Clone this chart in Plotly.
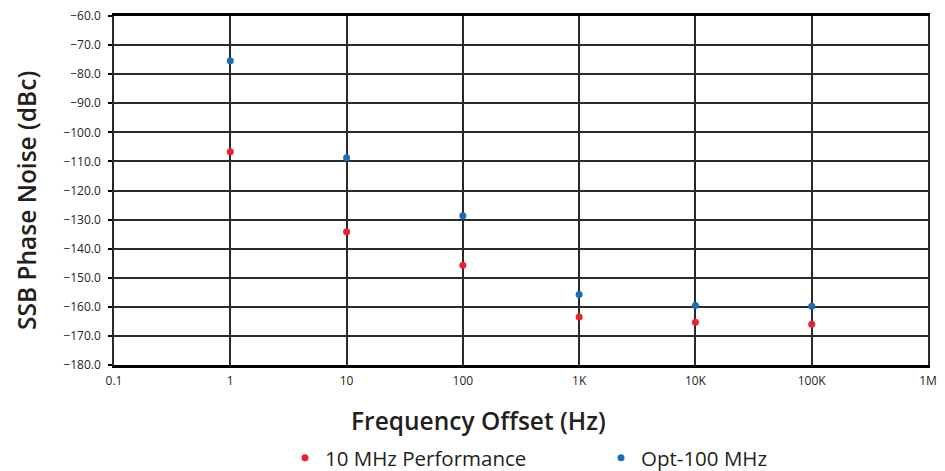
import plotly.graph_objects as go

freq = [1, 10, 100, 1000, 10000, 100000]
perf_10mhz = [-106.7, -134.2, -145.7, -163.5, -165.3, -166.0]
opt_100mhz = [-75.4, -108.7, -128.7, -155.8, -159.5, -159.8]

x_tickvals = [0.1, 1, 10, 100, 1000, 10000, 100000, 1000000]
x_ticktext = ["0.1", "1", "10", "100", "1K", "10K", "100K", "1M"]
y_tickvals = list(range(-180, -50, 10))

x_title = "Frequency Offset (Hz)"
y_title = "SSB Phase Noise (dBc)"

FONT = "Open Sans"
TXT = "#231f20"
W, H = 937, 463  # page body has an 8px margin

fig = go.Figure()
fig.add_trace(go.Scatter(x=freq, y=perf_10mhz, mode="markers", name="10 MHz Performance",
                         marker=dict(color="#e8222f", size=7), legend="legend"))
fig.add_trace(go.Scatter(x=freq, y=opt_100mhz, mode="markers", name="Opt-100 MHz",
                         marker=dict(color="#1c6cb5", size=7), legend="legend2"))

leg_common = dict(orientation="h", xanchor="left", yanchor="middle",
                  xref="container", yref="container", y=1 - 450 / H,
                  font=dict(size=20.5, family=FONT, color=TXT), itemwidth=30,
                  bgcolor="rgba(0,0,0,0)")

fig.update_layout(
    width=W, height=H,
    margin=dict(l=106, r=17, t=8, b=106, autoexpand=False),
    paper_bgcolor="white", plot_bgcolor="white",
    font=dict(family=FONT, color=TXT),
    showlegend=True,
    legend=dict(x=277 / W, **leg_common),
    legend2=dict(x=593 / W, **leg_common),
    xaxis=dict(type="log", range=[-1, 6], tickvals=x_tickvals, ticktext=x_ticktext,
               showgrid=True, gridcolor="#2a2a2a", gridwidth=1.5,
               showline=True, linecolor="black", linewidth=3, mirror=True,
               ticks="", ticklabelstandoff=3, ticklabeloverflow="allow",
               tickfont=dict(size=12, color=TXT)),
    yaxis=dict(range=[-180, -60], tickvals=y_tickvals, tickformat=".1f",
               showgrid=True, gridcolor="#2a2a2a", gridwidth=1.5, zeroline=False,
               showline=True, linecolor="#2a2a2a", linewidth=1.5, mirror=True,
               ticks="outside", ticklen=4, tickcolor="black", tickwidth=1.5,
               ticklabelstandoff=5, ticklabeloverflow="allow",
               tickfont=dict(size=12, color=TXT)),
    annotations=[
        dict(text=x_title, xref="paper", yref="paper", x=0.4472, y=-0.1576,
             xanchor="center", yanchor="middle", showarrow=False,
             font=dict(size=24.5, family=FONT, color=TXT, weight=600)),
        dict(text=y_title, xref="paper", yref="paper", x=-0.1081, y=0.4699,
             xanchor="center", yanchor="middle", showarrow=False, textangle=-90,
             font=dict(size=24.5, family=FONT, color=TXT, weight=600)),
    ],
)

fig.write_html("out.html")
